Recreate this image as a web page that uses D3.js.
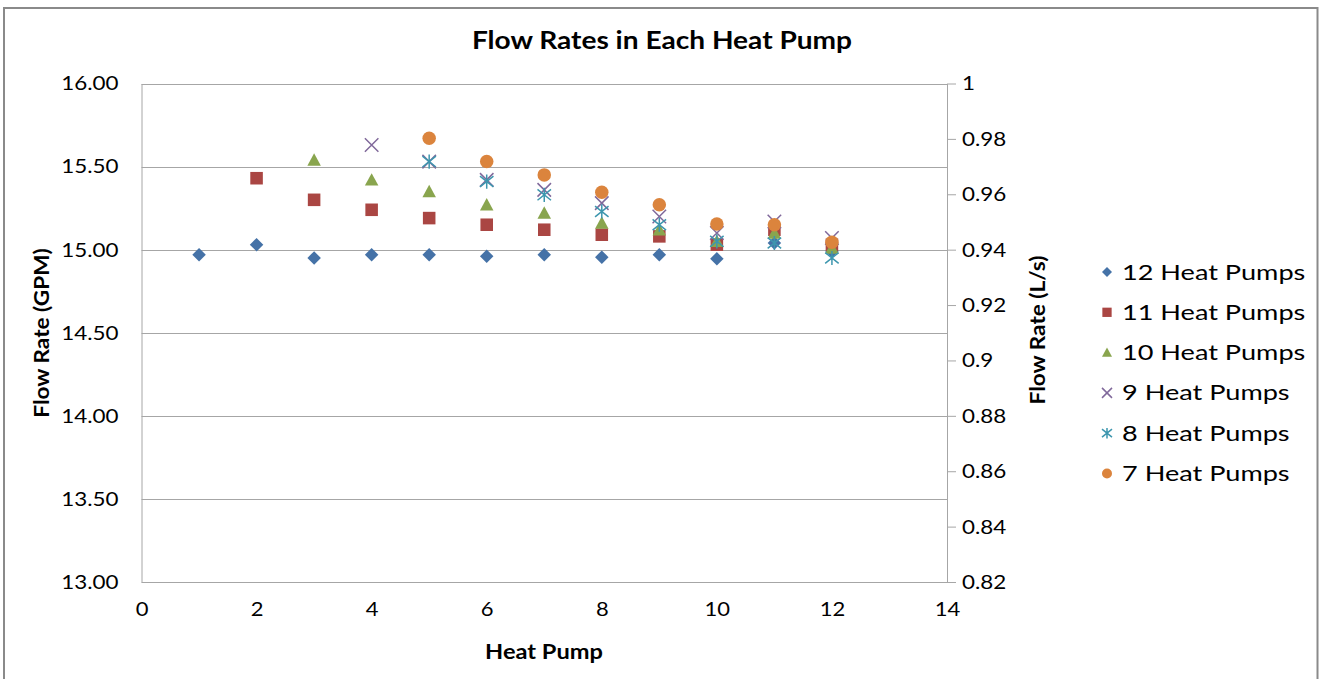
<!DOCTYPE html>
<html>
<head>
<meta charset="utf-8">
<script src="https://cdn.jsdelivr.net/npm/d3@7"></script>
<style>
  html, body { margin: 0; padding: 0; background: #fff; }
  svg { display: block; font-family: Lato, "Open Sans", sans-serif; }
</style>
</head>
<body>
<svg id="chart" width="1321" height="679"></svg>
<script>
// ---- data ----
const seriesNames = ["12 Heat Pumps", "11 Heat Pumps", "10 Heat Pumps", "9 Heat Pumps", "8 Heat Pumps", "7 Heat Pumps"];
const hp12x = [1, 2, 3, 4, 5, 6, 7, 8, 9, 10, 11, 12];
const hp12y = [14.97, 15.03, 14.95, 14.97, 14.97, 14.96, 14.97, 14.955, 14.97, 14.945, 15.04, 14.99];
const hp11x = [2, 3, 4, 5, 6, 7, 8, 9, 10, 11, 12];
const hp11y = [15.43, 15.30, 15.24, 15.19, 15.15, 15.12, 15.09, 15.08, 15.03, 15.12, 15.03];
const hp10x = [3, 4, 5, 6, 7, 8, 9, 10, 11, 12];
const hp10y = [15.54, 15.42, 15.35, 15.27, 15.22, 15.16, 15.12, 15.05, 15.10, 15.01];
const hp9x = [4, 5, 6, 7, 8, 9, 10, 11, 12];
const hp9y = [15.63, 15.53, 15.42, 15.36, 15.28, 15.20, 15.10, 15.17, 15.07];
const hp8x = [5, 6, 7, 8, 9, 10, 11, 12];
const hp8y = [15.53, 15.41, 15.33, 15.23, 15.15, 15.05, 15.04, 14.95];
const hp7x = [5, 6, 7, 8, 9, 10, 11, 12];
const hp7y = [15.67, 15.53, 15.45, 15.345, 15.27, 15.155, 15.15, 15.045];
const xTicks = [0, 2, 4, 6, 8, 10, 12, 14];
const yLeftTicks = [13.00, 13.50, 14.00, 14.50, 15.00, 15.50, 16.00];
const yRightTicks = [0.82, 0.84, 0.86, 0.88, 0.9, 0.92, 0.94, 0.96, 0.98, 1];
const colors = ["#4572A7", "#AA4643", "#89A54E", "#80699B", "#3D96AE", "#DB843D"];
const markers = ["diamond", "square", "triangle", "x", "star", "circle"];
const titleText = "Flow Rates in Each Heat Pump";
const xTitle = "Heat Pump";
const yLeftTitle = "Flow Rate (GPM)";
const yRightTitle = "Flow Rate (L/s)";

const series = [
  {xs: hp12x, ys: hp12y}, {xs: hp11x, ys: hp11y}, {xs: hp10x, ys: hp10y},
  {xs: hp9x, ys: hp9y}, {xs: hp8x, ys: hp8y}, {xs: hp7x, ys: hp7y}
].map((s, i) => ({name: seriesNames[i], color: colors[i], marker: markers[i],
  points: s.xs.map((x, j) => ({x, y: s.ys[j]}))}));

// ---- layout ----
const FONT = "Lato, sans-serif";
const svg = d3.select("#chart");
const L = 141.5, R = 947, T = 83.5, B = 582;
const x = d3.scaleLinear().domain([0, 14]).range([L, R]);
const y = d3.scaleLinear().domain([13, 16]).range([B, T]);
const y2 = d3.scaleLinear().domain([0.82, 1]).range([B, T]);

// widen text horizontally to mimic the reference font metrics
function stretch(sel, factor) {
  sel.each(function () {
    const len = this.getComputedTextLength();
    d3.select(this).attr("textLength", len * factor).attr("lengthAdjust", "spacingAndGlyphs");
  });
}

// outer frame
svg.append("rect").attr("x", 4).attr("y", 8).attr("width", 1313.5).attr("height", 700)
  .attr("fill", "none").attr("stroke", "#8a8a8a").attr("stroke-width", 2);

// gridlines
svg.append("g").selectAll("line").data(yLeftTicks).join("line")
  .attr("x1", L).attr("x2", R).attr("y1", d => Math.round(y(d)) + 0.5).attr("y2", d => Math.round(y(d)) + 0.5)
  .attr("stroke", "#a6a6a6").attr("stroke-width", 1);

// left axis
const gl = svg.append("g").attr("transform", `translate(${L},0)`)
  .call(d3.axisLeft(y).tickValues(yLeftTicks).tickFormat(d3.format(".2f")).tickSize(0).tickPadding(23));
gl.select(".domain").attr("stroke", "#a6a6a6");
gl.selectAll("text").attr("font-size", 20).attr("fill", "#000").attr("font-family", FONT);
stretch(gl.selectAll("text"), 1.12);

// right axis
const gr = svg.append("g").attr("transform", `translate(${R},0)`)
  .call(d3.axisRight(y2).tickValues(yRightTicks).tickFormat(d => d3.format("")(+d.toFixed(2))).tickSize(9).tickPadding(6).tickSizeOuter(0));
gr.select(".domain").attr("stroke", "#a6a6a6");
gr.selectAll("line").attr("stroke", "#a6a6a6");
gr.selectAll("text").attr("font-size", 20).attr("fill", "#000").attr("font-family", FONT);
stretch(gr.selectAll("text"), 1.12);

// bottom axis
const gb = svg.append("g").attr("transform", `translate(0,${B})`)
  .call(d3.axisBottom(x).tickValues(xTicks).tickSize(0).tickPadding(20));
gb.select(".domain").attr("stroke", "#a6a6a6");
gb.selectAll("text").attr("font-size", 20).attr("fill", "#000").attr("font-family", FONT);
stretch(gb.selectAll("text"), 1.1);

// markers
function drawMarker(sel, type, color, s) {
  const h = s / 2;
  if (type === "x") {
    sel.append("path").attr("d", `M${-h},${-h}L${h},${h}M${-h},${h}L${h},${-h}`)
      .attr("stroke", color).attr("stroke-width", 1.5).attr("fill", "none");
  } else if (type === "star") {
    sel.append("path").attr("d", `M${-h},${-h * 0.8}L${h},${h * 0.8}M${-h},${h * 0.8}L${h},${-h * 0.8}M0,${-h * 1.05}L0,${h * 1.05}`)
      .attr("stroke", color).attr("stroke-width", 1.5).attr("fill", "none");
  } else if (type === "diamond") {
    sel.append("path").attr("d", `M0,${-h}L${h},0L0,${h}L${-h},0Z`).attr("fill", color);
  } else if (type === "square") {
    const q = h * 0.93;
    sel.append("path").attr("d", `M${-q},${-q}H${q}V${q}H${-q}Z`).attr("fill", color);
  } else if (type === "triangle") {
    sel.append("path").attr("d", `M0,${-h}L${h},${h * 0.85}L${-h},${h * 0.85}Z`).attr("fill", color);
  } else {
    sel.append("circle").attr("r", h).attr("fill", color);
  }
}

series.forEach(sr => {
  const g = svg.append("g");
  sr.points.forEach(p => {
    const m = g.append("g").attr("transform", `translate(${x(p.x)},${y(p.y)})`);
    drawMarker(m, sr.marker, sr.color, 13.5);
  });
});

// legend
const lg = svg.append("g");
series.forEach((sr, i) => {
  const yy = 272 + i * 40.3;
  const m = lg.append("g").attr("transform", `translate(1107,${yy})`);
  drawMarker(m, sr.marker, sr.color, 10);
  lg.append("text").attr("x", 1122).attr("y", yy).attr("dy", "0.36em")
    .attr("font-size", 21).attr("fill", "#000").attr("font-family", FONT).text(sr.name);
});
stretch(lg.selectAll("text"), 1.29);

// titles
const t1 = svg.append("text").attr("x", 662).attr("y", 41).attr("dy", "0.35em").attr("text-anchor", "middle")
  .attr("font-size", 24).attr("font-weight", "bold").attr("font-family", FONT).text(titleText);
stretch(t1, 1.17);
const t2 = svg.append("text").attr("x", 544).attr("y", 652).attr("dy", "0.35em").attr("text-anchor", "middle")
  .attr("font-size", 20).attr("font-weight", "bold").attr("font-family", FONT).text(xTitle);
stretch(t2, 1.18);
const t3 = svg.append("text").attr("transform", "translate(42,333) rotate(-90)").attr("dy", "0.35em").attr("text-anchor", "middle")
  .attr("font-size", 20).attr("font-weight", "bold").attr("font-family", FONT).text(yLeftTitle);
stretch(t3, 1.13);
const t4 = svg.append("text").attr("transform", "translate(1038,330) rotate(-90)").attr("dy", "0.35em").attr("text-anchor", "middle")
  .attr("font-size", 20).attr("font-weight", "bold").attr("font-family", FONT).text(yRightTitle);
stretch(t4, 1.13);
</script>
</body>
</html>
